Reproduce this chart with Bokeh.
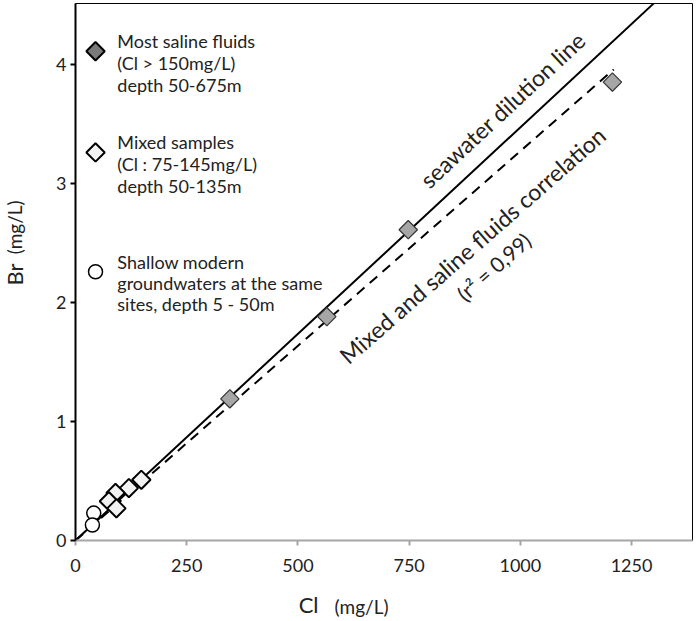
from bokeh.plotting import figure
from bokeh.layouts import row, column
from bokeh.models import Label, Range1d, FixedTicker
from bokeh.embed import file_html
from bokeh.resources import INLINE
import math

# ---------------- data ----------------
saline_cl = [347, 565, 748, 1207]
saline_br = [1.19, 1.88, 2.61, 3.85]

mixed_cl = [148, 120, 90, 75, 92]
mixed_br = [0.51, 0.44, 0.40, 0.33, 0.27]

shallow_cl = [41, 38]
shallow_br = [0.23, 0.13]

seawater_ratio = 0.00347          # Br/Cl of seawater
seawater_cl = [0, 1300]
corr_slope = 0.00327              # fitted mixed + saline correlation
corr_cl = [0, 1210]

x_ticks = [0, 250, 500, 750, 1000, 1250]
y_ticks = [0, 1, 2, 3, 4]

legend_lines = [
    ["Most saline fluids", "(Cl > 150mg/L)", "depth 50-675m"],
    ["Mixed samples", "(Cl : 75-145mg/L)", "depth 50-135m"],
    ["Shallow modern", "groundwaters at the same", "sites, depth 5 - 50m"],
]

x_title = ["Cl", "(mg/L)"]
y_title = ["Br", "(mg/L)"]

FONT = "Lato"
TXT = "#222222"

TOTAL_H = 618
LEFT_W = 30
MAIN_W = 663
MAIN_H = 578
BORDER_L = 45
BORDER_R = 1
BORDER_T = 3
BORDER_B = 38

# ---------------- main plot ----------------
p = figure(width=MAIN_W, height=MAIN_H, output_backend="svg",
           toolbar_location=None,
           x_range=Range1d(0, 1387), y_range=Range1d(0, 4.51),
           min_border_left=BORDER_L, min_border_right=BORDER_R,
           min_border_top=BORDER_T, min_border_bottom=BORDER_B,
           background_fill_color="white", border_fill_color="white")

p.grid.visible = False
p.outline_line_color = "black"
p.outline_line_width = 1

xa = p.xaxis[0]
xa.ticker = FixedTicker(ticks=x_ticks)
xa.axis_line_color = "#a6a6a6"
xa.axis_line_width = 2
xa.major_tick_line_color = "#a6a6a6"
xa.major_tick_line_width = 2
xa.major_tick_out = 5
xa.major_tick_in = 0
xa.minor_tick_line_color = None
xa.major_label_text_font = FONT
xa.major_label_text_font_size = "18px"
xa.major_label_text_color = TXT
xa.major_label_standoff = 13

ya = p.yaxis[0]
ya.ticker = FixedTicker(ticks=y_ticks)
ya.axis_line_color = "black"
ya.axis_line_width = 2
ya.major_tick_line_color = "black"
ya.major_tick_line_width = 2
ya.major_tick_out = 5
ya.major_tick_in = 0
ya.minor_tick_line_color = None
ya.major_label_text_font = FONT
ya.major_label_text_font_size = "18px"
ya.major_label_text_color = TXT
ya.major_label_standoff = 4

# lines
p.line(seawater_cl, [c * seawater_ratio for c in seawater_cl],
       line_color="black", line_width=2)
p.line(corr_cl, [c * corr_slope for c in corr_cl],
       line_color="black", line_width=2, line_dash="10 7")

# points
p.scatter(shallow_cl, shallow_br, marker="circle", size=14,
          fill_color="white", line_color="black", line_width=1.5)
p.scatter(mixed_cl, mixed_br, marker="square", size=13, angle=math.pi / 4,
          fill_color="#f2f2f2", line_color="black", line_width=2)
p.scatter(saline_cl, saline_br, marker="square", size=13, angle=math.pi / 4,
          fill_color="#a6a6a6", line_color="#333333", line_width=1.2)

# legend (drawn manually)
leg_mx = 45
p.scatter([leg_mx], [4.109], marker="square", size=13, angle=math.pi / 4,
          fill_color="#7a7a7a", line_color="black", line_width=2)
p.scatter([leg_mx], [3.259], marker="square", size=13, angle=math.pi / 4,
          fill_color="#f2f2f2", line_color="black", line_width=2)
p.scatter([leg_mx], [2.257], marker="circle", size=14,
          fill_color="white", line_color="black", line_width=1.5)

leg_y = [[4.194, 4.008, 3.823], [3.343, 3.158, 2.981], [2.341, 2.164, 1.987]]
for lines, ys in zip(legend_lines, leg_y):
    for t, yy in zip(lines, ys):
        p.add_layout(Label(x=94, y=yy, text=t, text_font=FONT,
                           text_font_size="18px", text_color=TXT,
                           text_baseline="middle", text_align="left"))

# rotated annotations
p.add_layout(Label(x=960, y=3.62, text="seawater dilution line", angle=43.0,
                   angle_units="deg", text_font=FONT, text_font_size="23px",
                   text_color=TXT, text_align="center",
                   text_baseline="middle"))
p.add_layout(Label(x=892, y=2.48, text="Mixed and saline fluids correlation",
                   angle=41.3, angle_units="deg", text_font=FONT,
                   text_font_size="23px", text_color=TXT,
                   text_align="center", text_baseline="middle"))
p.add_layout(Label(x=940, y=2.30, text="(r\u00b2 = 0,99)", angle=41.3,
                   angle_units="deg", text_font=FONT, text_font_size="21px",
                   text_color=TXT, text_align="center",
                   text_baseline="middle"))


def blank_fig(w, h, xr, yr, bl=0, br=0, bt=0, bb=0):
    f = figure(width=w, height=h, output_backend="svg", toolbar_location=None,
               x_range=xr, y_range=yr,
               x_axis_type=None, y_axis_type=None,
               min_border_left=bl, min_border_right=br,
               min_border_top=bt, min_border_bottom=bb,
               background_fill_color="white", border_fill_color="white")
    f.grid.visible = False
    f.outline_line_color = None
    return f


# ---------------- y-axis title strip (shares the Br scale) ----------------
ly = blank_fig(LEFT_W, TOTAL_H, Range1d(0, LEFT_W), p.y_range,
               bt=BORDER_T, bb=TOTAL_H - MAIN_H + BORDER_B)
ly.add_layout(Label(x=14, y=2.234, text=y_title[0], angle=90,
                    angle_units="deg", text_font=FONT, text_font_size="22px",
                    text_color=TXT, text_align="center",
                    text_baseline="middle"))
ly.add_layout(Label(x=14, y=2.63, text=y_title[1], angle=90,
                    angle_units="deg", text_font=FONT, text_font_size="19px",
                    text_color=TXT, text_align="center",
                    text_baseline="middle"))

# ---------------- x-axis title strip (shares the Cl scale) ----------------
BOT_H = TOTAL_H - MAIN_H
bx = blank_fig(MAIN_W, BOT_H, p.x_range, Range1d(0, BOT_H),
               bl=BORDER_L, br=BORDER_R)
bx.add_layout(Label(x=524, y=14, text=x_title[0], text_font=FONT,
                    text_font_size="22px", text_color=TXT,
                    text_align="center", text_baseline="middle"))
bx.add_layout(Label(x=643, y=12, text=x_title[1], text_font=FONT,
                    text_font_size="19px", text_color=TXT,
                    text_align="center", text_baseline="middle"))

layout = row(ly, column(p, bx, spacing=0), spacing=0)

open("out.html", "w").write(file_html(layout, INLINE))
